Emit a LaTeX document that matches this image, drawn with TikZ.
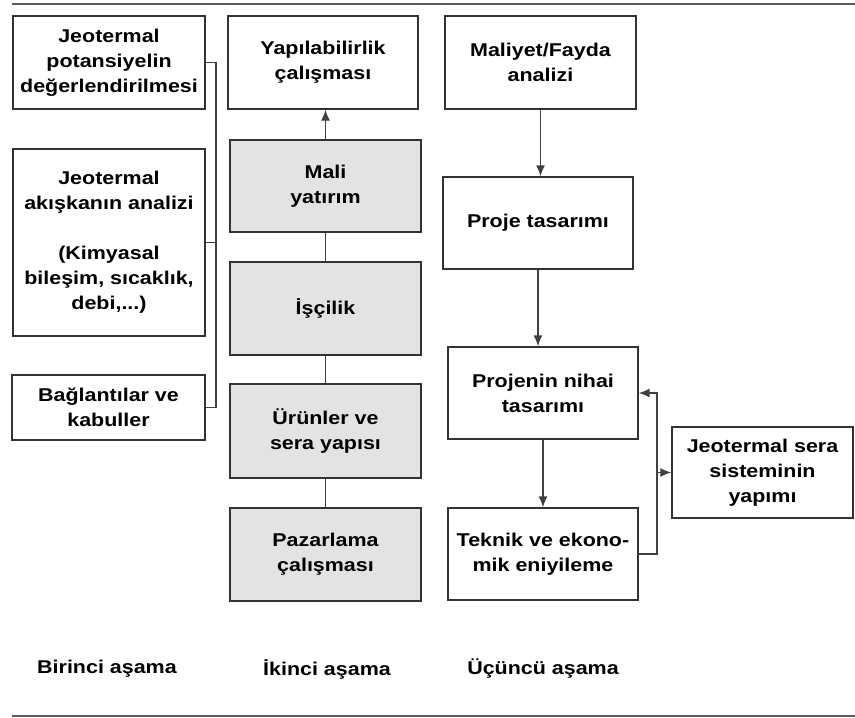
\documentclass[tikz,border=0pt]{standalone}
\usepackage{fontspec}
\setmainfont[FakeStretch=1.16]{Liberation Sans}
\usetikzlibrary{arrows.meta}

\begin{document}
\begin{tikzpicture}[x=1pt,y=-1pt,
    kutu/.style={draw=black!80,line width=1.4pt,fill=white,inner sep=0pt,
      align=center,font=\fontsize{18.5}{25}\selectfont\bfseries},
    grikutu/.style={kutu,fill=black!11},
    hat/.style={draw=black!75,line width=1.4pt},
    ok/.style={hat,-{Latex[length=11pt,width=9pt]}},
    asama/.style={font=\fontsize{18.5}{25}\selectfont\bfseries}]
  \useasboundingbox (0,0) rectangle (855,718);
  \draw[black!65,line width=1.5pt] (12,4) -- (855,4);
  \draw[black!65,line width=1.5pt] (12,716) -- (855,716);

  % birinci asama
  \node[kutu,minimum width=192,minimum height=93] (b1) at (109,62.5)
    {Jeotermal\\potansiyelin\\değerlendirilmesi};
  \node[kutu,minimum width=192,minimum height=187] (b2) at (109,242.5)
    {Jeotermal\\akışkanın analizi\\[25pt](Kimyasal\\bileşim, sıcaklık,\\debi,...)};
  \node[kutu,minimum width=193,minimum height=65] (b3) at (108.5,407.5)
    {Bağlantılar ve\\kabuller};
  \coordinate (busTop) at (216,62.5);
  \coordinate (busBot) at (216,407.5);
  \draw[hat] (b1.east) -- (busTop) -- (busBot) -- (b3.east);
  \draw[hat] (b2.east) -- (b2.east -| busTop);

  % ikinci asama
  \node[kutu,minimum width=190,minimum height=93] (y1) at (323,62.5)
    {Yapılabilirlik\\çalışması};
  \node[grikutu,minimum width=191,minimum height=92] (m1) at (325.5,186)
    {Mali\\yatırım};
  \node[grikutu,minimum width=191,minimum height=93] (m2) at (325.5,308.5)
    {İşçilik};
  \node[grikutu,minimum width=191,minimum height=94] (m3) at (325.5,431)
    {Ürünler ve\\sera yapısı};
  \node[grikutu,minimum width=191,minimum height=93] (m4) at (325.5,554.5)
    {Pazarlama\\çalışması};
  \draw[ok] (m1.north) -- (m1.north |- y1.south);
  \draw[hat] (m1) -- (m2);
  \draw[hat] (m2) -- (m3);
  \draw[hat] (m3) -- (m4);

  % ucuncu asama
  \node[kutu,minimum width=191,minimum height=93] (r1) at (540.5,62.5)
    {Maliyet/Fayda\\analizi};
  \node[kutu,minimum width=190,minimum height=92] (r2) at (538,223)
    {Proje tasarımı};
  \node[kutu,minimum width=190,minimum height=92] (r3) at (543,393)
    {Projenin nihai\\tasarımı};
  \node[kutu,minimum width=190,minimum height=92] (r4) at (543,554)
    {Teknik ve ekono-\\mik eniyileme};
  \node[kutu,minimum width=181,minimum height=91] (s) at (762.5,472.5)
    {Jeotermal sera\\sisteminin\\yapımı};
  \draw[ok] (r1.south) -- (r1.south |- r2.north);
  \draw[ok] (r2.south) -- (r2.south |- r3.north);
  \draw[ok] (r3.south) -- (r3.south |- r4.north);
  \coordinate (geri) at (657,554);
  \coordinate (dal) at (657,472.5);
  \draw[ok] (r4.east) -- (geri) |- (r3.east);
  \draw[ok] (dal) -- (s.west);

  \node[asama] (a1) at (107,669) {Birinci aşama};
  \node[asama] (a2) at (327,669) {İkinci aşama};
  \node[asama] (a3) at (543,669) {Üçüncü aşama};
\end{tikzpicture}
\end{document}
